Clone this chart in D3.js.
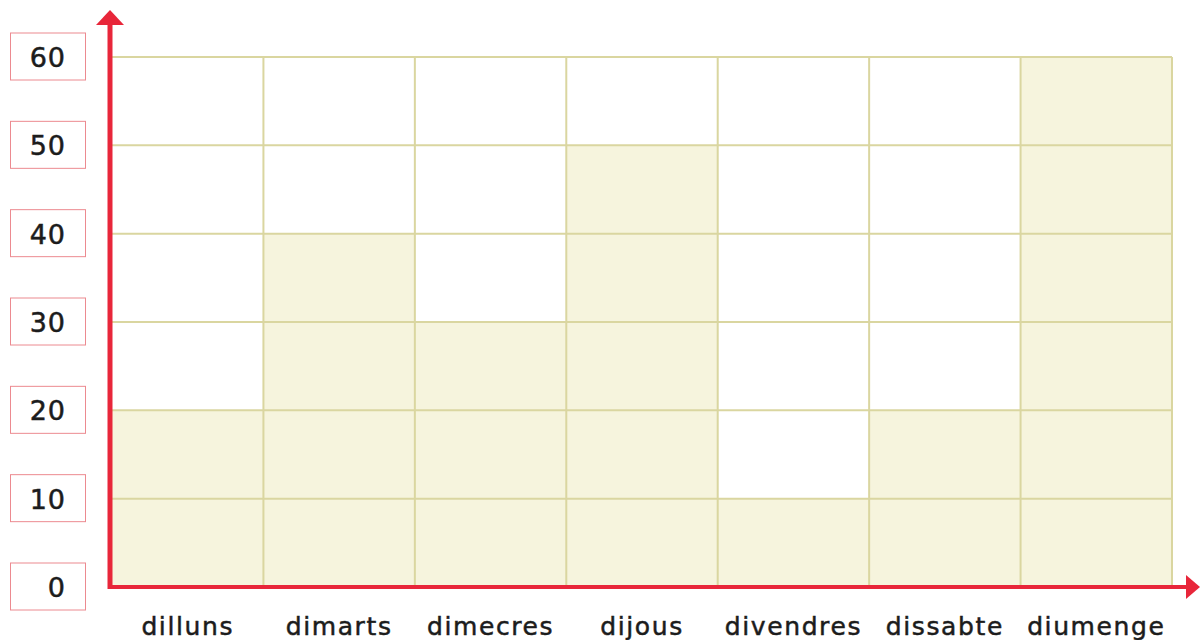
<!DOCTYPE html>
<html>
<head>
<meta charset="utf-8">
<script src="https://cdn.jsdelivr.net/npm/d3@7"></script>
<style>
  body { margin: 0; background: #fff; }
  svg { display: block; }
</style>
</head>
<body>
<div id="chart"></div>
<script>
/* DATA */
const days = ["dilluns", "dimarts", "dimecres", "dijous", "divendres", "dissabte", "diumenge"];
const values = [20, 40, 30, 50, 10, 20, 60];
const yTicks = [0, 10, 20, 30, 40, 50, 60];

/* CONSTANTS */
const width = 1200,
  height = 640,
  margin = { top: 57, bottom: 53, left: 112, right: 28 };

const red = "#e8263a",
  fillColor = "#f6f4dd",
  gridColor = "#dad6a0";

const svg = d3.select("#chart")
  .append("svg")
  .attr("width", width)
  .attr("height", height);

// scales
const xScale = d3.scaleBand()
  .domain(days)
  .range([margin.left, width - margin.right])
  .padding(0);

const yScale = d3.scaleLinear()
  .domain([0, 60])
  .range([height - margin.bottom, margin.top]);

// bars (filled columns)
svg.append("g")
  .selectAll("rect")
  .data(days.map((d, i) => ({ day: d, value: values[i] })))
  .join("rect")
  .attr("x", d => xScale(d.day))
  .attr("y", d => yScale(d.value))
  .attr("width", xScale.bandwidth())
  .attr("height", d => yScale(0) - yScale(d.value))
  .attr("fill", fillColor);

// grid
const grid = svg.append("g")
  .attr("stroke", gridColor)
  .attr("stroke-width", 2);

grid.selectAll(".hline")
  .data(yTicks.filter(t => t > 0))
  .join("line")
  .attr("class", "hline")
  .attr("x1", margin.left)
  .attr("x2", width - margin.right)
  .attr("y1", d => yScale(d))
  .attr("y2", d => yScale(d));

const xEdges = days.map(d => xScale(d) + xScale.bandwidth());
grid.selectAll(".vline")
  .data(xEdges)
  .join("line")
  .attr("class", "vline")
  .attr("x1", d => d)
  .attr("x2", d => d)
  .attr("y1", yScale(60))
  .attr("y2", yScale(0));

// y tick labels in boxes
const yLab = svg.append("g")
  .selectAll("g")
  .data(yTicks)
  .join("g")
  .attr("transform", d => `translate(0, ${yScale(d)})`);

yLab.append("rect")
  .attr("x", 10.5)
  .attr("y", -24)
  .attr("width", 75)
  .attr("height", 47)
  .attr("fill", "#fff")
  .attr("stroke", "#ec8a90")
  .attr("stroke-width", 1);

yLab.append("text")
  .attr("x", 66)
  .attr("y", 10)
  .attr("text-anchor", "end")
  .style("font", "27px 'DejaVu Sans', sans-serif")
  .style("letter-spacing", "1px")
  .attr("fill", "#1c1c1c")
  .attr("stroke", "#1c1c1c")
  .attr("stroke-width", 0.5)
  .text(d => d);

// x labels
svg.append("g")
  .selectAll("text")
  .data(days)
  .join("text")
  .attr("x", d => xScale(d) + xScale.bandwidth() / 2)
  .attr("y", 635)
  .attr("text-anchor", "middle")
  .style("font", "25px 'DejaVu Sans', sans-serif")
  .style("letter-spacing", "1.6px")
  .attr("fill", "#1c1c1c")
  .attr("stroke", "#1c1c1c")
  .attr("stroke-width", 0.5)
  .text(d => d);

// axes with arrows
const x0 = 110, y0 = yScale(0);

svg.append("line")
  .attr("x1", x0).attr("x2", x0)
  .attr("y1", y0 + 2).attr("y2", 22)
  .attr("stroke", red)
  .attr("stroke-width", 5);

svg.append("path")
  .attr("d", `M${x0},10 L${x0 + 14},25 L${x0 - 14},25 Z`)
  .attr("fill", red);

svg.append("line")
  .attr("x1", x0 - 2).attr("x2", 1190)
  .attr("y1", y0).attr("y2", y0)
  .attr("stroke", red)
  .attr("stroke-width", 4);

svg.append("path")
  .attr("d", `M1200,${y0} L1186,${y0 - 12} L1186,${y0 + 12} Z`)
  .attr("fill", red);
</script>
</body>
</html>
